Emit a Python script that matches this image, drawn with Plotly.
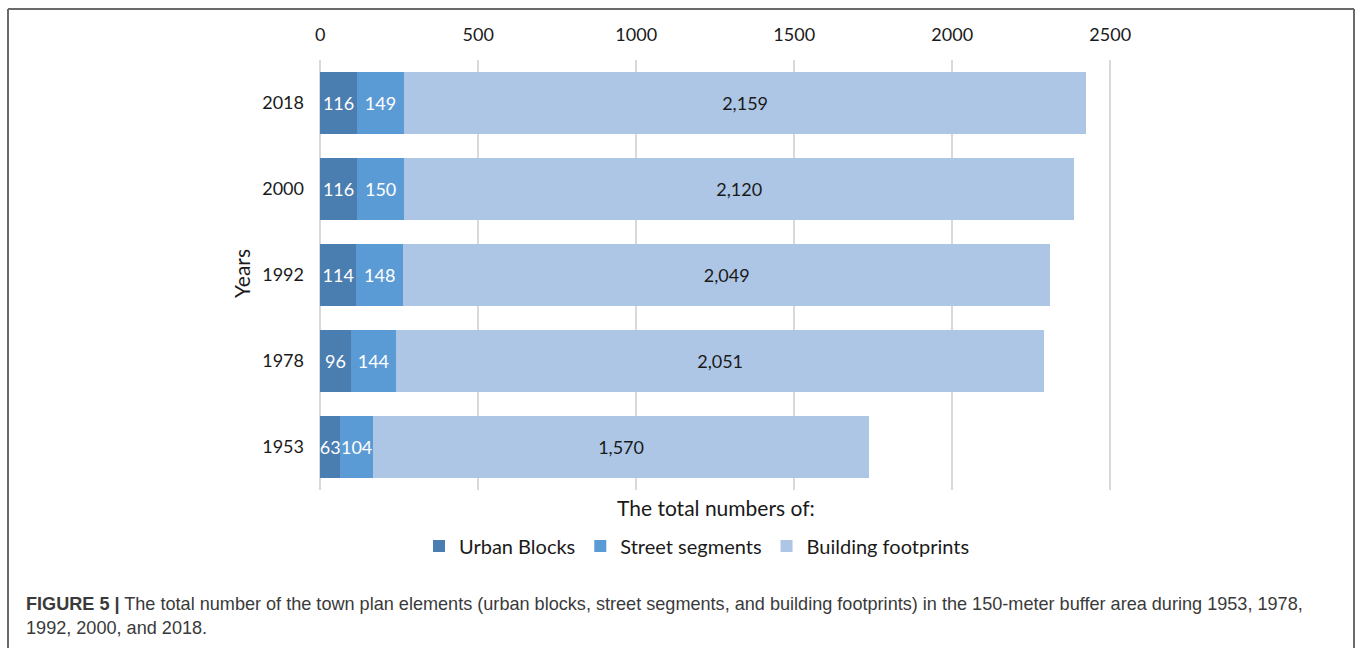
import plotly.graph_objects as go

# Town plan element counts per survey year
years = ["1953", "1978", "1992", "2000", "2018"]
urban_blocks = [63, 96, 114, 116, 116]
street_segments = [104, 144, 148, 150, 149]
building_footprints = [1570, 2051, 2049, 2120, 2159]

x_ticks = [0, 500, 1000, 1500, 2000, 2500]

# x scale: 0 -> 320 px, 2500 -> 1110 px; range padded so edge gridlines show
X_MIN, X_MAX = -4, 2512
PX_PER_UNIT = (1110 - 320) / 2500

W_PX, H_PX = 1358, 648
L = round(320 + X_MIN * PX_PER_UNIT)
R = round(W_PX - (320 + X_MAX * PX_PER_UNIT))
T, B = 60, 158
PW, PH = W_PX - L - R, H_PX - T - B


def px_x(px):
    return (px - L) / PW


def px_y(py):
    return 1 - (py - T) / PH


FONT = "Lato"
DARK = "#1a1a1a"

fig = go.Figure()

series = [
    ("Urban Blocks", urban_blocks, "#4a7db0", "white", "%{x}"),
    ("Street segments", street_segments, "#5b9bd5", "white", "%{x}"),
    ("Building footprints", building_footprints, "#adc6e5", DARK, "%{x:,}"),
]
for name, vals, color, tcolor, tmpl in series:
    fig.add_trace(go.Bar(
        name=name, y=years, x=vals, orientation="h",
        marker=dict(color=color, line=dict(width=0)),
        texttemplate=tmpl, textposition="inside", insidetextanchor="middle",
        constraintext="none", textangle=0,
        textfont=dict(family=FONT, size=18, color=tcolor),
        hoverinfo="skip",
    ))

fig.update_layout(
    width=W_PX, height=H_PX,
    margin=dict(l=L, r=R, t=T, b=B, autoexpand=False),
    barmode="stack", bargap=0.29,
    paper_bgcolor="white", plot_bgcolor="white",
    font=dict(family=FONT, size=18, color=DARK),
    showlegend=True,
    legend=dict(
        orientation="h", x=px_x(697), xanchor="center",
        y=px_y(546), yanchor="middle",
        font=dict(family=FONT, size=20, color=DARK),
        traceorder="normal", itemwidth=30,
    ),
    xaxis=dict(
        side="top", range=[X_MIN, X_MAX], tickvals=x_ticks,
        showgrid=True, gridcolor="#d9d9d9", gridwidth=1.5,
        zeroline=False, showline=False, ticks="",
        ticklabelstandoff=14,
        tickfont=dict(family=FONT, size=18, color=DARK),
    ),
    yaxis=dict(
        type="category", categoryorder="array", categoryarray=years,
        showgrid=False, zeroline=False, showline=False, ticks="",
        ticklabelstandoff=14,
        tickfont=dict(family=FONT, size=18, color=DARK),
    ),
)

# Axis titles
fig.add_annotation(
    text="The total numbers of:", xref="paper", yref="paper",
    x=px_x(716), y=px_y(507), xanchor="center", yanchor="middle",
    showarrow=False, font=dict(family=FONT, size=21, color=DARK),
)
fig.add_annotation(
    text="Years", xref="paper", yref="paper", textangle=-90,
    x=px_x(241), y=px_y(274), xanchor="center", yanchor="middle",
    showarrow=False, font=dict(family=FONT, size=21, color=DARK),
)

# Figure caption
CAP = "Liberation Sans"
fig.add_annotation(
    text="<b>FIGURE 5 |</b> The total number of the town plan elements (urban blocks, "
         "street segments, and building footprints) in the 150-meter buffer area during 1953, 1978,",
    xref="paper", yref="paper", x=px_x(24), y=px_y(604),
    xanchor="left", yanchor="middle", showarrow=False,
    font=dict(family=CAP, size=18.1, color="#3a3a3a"),
)
fig.add_annotation(
    text="1992, 2000, and 2018.",
    xref="paper", yref="paper", x=px_x(24), y=px_y(628),
    xanchor="left", yanchor="middle", showarrow=False,
    font=dict(family=CAP, size=18.1, color="#3a3a3a"),
)

# Frame around the figure (open at the bottom)
frame = dict(type="line", xref="paper", yref="paper",
             line=dict(color="#6a6a6a", width=2), layer="above")
fig.add_shape(x0=px_x(8), x1=px_x(1354), y0=px_y(9), y1=px_y(9), **frame)
fig.add_shape(x0=px_x(8), x1=px_x(8), y0=px_y(9), y1=px_y(660), **frame)
fig.add_shape(x0=px_x(1354), x1=px_x(1354), y0=px_y(9), y1=px_y(660), **frame)

fig.write_html("out.html")
